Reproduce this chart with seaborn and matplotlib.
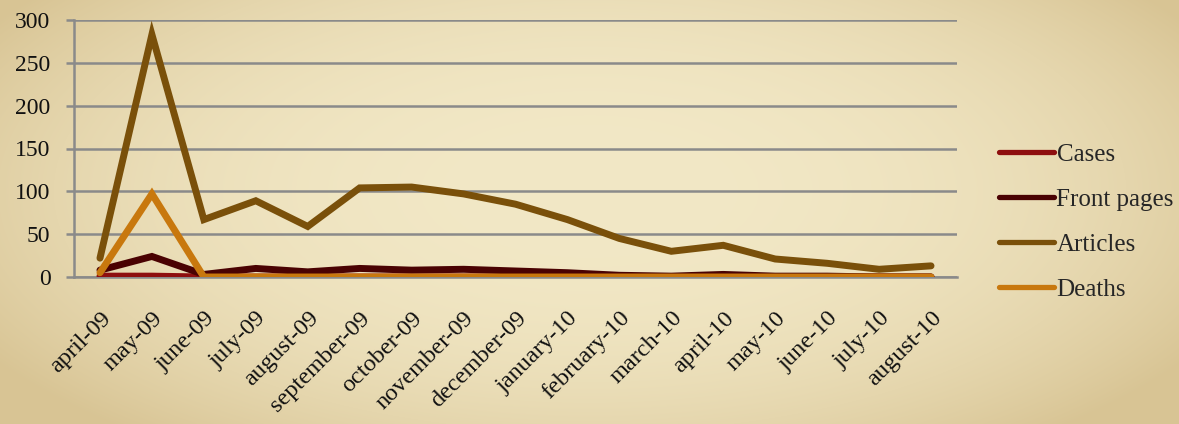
import numpy as np
import pandas as pd
import matplotlib
matplotlib.use("Agg")
import matplotlib.pyplot as plt
import seaborn as sns
from matplotlib.lines import Line2D

months = ["april-09", "may-09", "june-09", "july-09", "august-09", "september-09",
          "october-09", "november-09", "december-09", "january-10", "february-10",
          "march-10", "april-10", "may-10", "june-10", "july-10", "august-10"]
cases = [1, 1, 0, 0, 0, 0, 0, 0, 0, 0, 0, 0, 0, 0, 0, 0, 0]
front_pages = [8, 24, 3, 10, 6, 10, 8, 9, 7, 5, 2, 1, 3, 1, 1, 0, 0]
articles = [22, 283, 67, 89, 59, 104, 105, 97, 85, 67, 45, 30, 37, 21, 16, 9, 13]
deaths = [5, 97, 0, 0, 0, 0, 0, 0, 0, 0, 0, 0, 0, 0, 0, 0, 0]
series_names = ["Cases", "Front pages", "Articles", "Deaths"]
colors = ["#8E0F0F", "#4A0202", "#7A500A", "#C8780E"]

rows = []
for name, vals in zip(series_names, [cases, front_pages, articles, deaths]):
    for i, v in enumerate(vals):
        rows.append({"idx": i, "month": months[i], "value": v, "series": name})
df = pd.DataFrame(rows)

sns.set_theme(style="white")
plt.rcParams["font.family"] = ["Liberation Serif", "DejaVu Serif"]

bg = "#EFE3BD"
fig = plt.figure(figsize=(11.79, 4.24), dpi=100, facecolor=bg)

# parchment vignette background in its own axes behind everything
H, W = 424, 1179
yy, xx = np.mgrid[0:H, 0:W]
r = np.sqrt(((xx - W * 0.5) / (W * 0.6)) ** 2 + ((yy - H * 0.45) / (H * 0.75)) ** 2)
t = np.clip(r, 0, 1) ** 2.5
c0 = np.array([0xF2, 0xE8, 0xC6]) / 255.0
c1 = np.array([0xD8, 0xC4, 0x94]) / 255.0
img = c0[None, None, :] * (1 - t[..., None]) + c1[None, None, :] * t[..., None]
bgax = fig.add_axes([0, 0, 1, 1], zorder=-10)
bgax.imshow(img, aspect="auto", interpolation="bilinear")
bgax.set_axis_off()

ax = fig.add_axes([74 / 1179, 1 - 277 / 424, (957 - 74) / 1179, (277 - 20) / 424], zorder=1)
ax.patch.set_alpha(0)

sns.lineplot(data=df, x="idx", y="value", hue="series", hue_order=series_names,
             palette=colors, linewidth=5.0, ax=ax, legend=False, sort=False,
             solid_capstyle="round", solid_joinstyle="miter", zorder=3)

ax.set_xlim(-0.5, len(months) - 0.5)
ax.set_ylim(0, 300)
ax.set_yticks(np.arange(0, 301, 50))
ax.set_xticks(np.arange(len(months)))
ax.set_xticklabels(months, rotation=45, ha="right", va="top", rotation_mode="anchor",
                   fontsize=17.5, color="#111111")
ax.set_xticks(np.arange(-0.5, len(months), 1.0), minor=True)
ax.tick_params(axis="x", which="major", length=0, pad=22)
ax.tick_params(axis="x", which="minor", length=6, width=1.8, color="#8A8A8A", direction="out")
ax.tick_params(axis="y", which="major", length=6, width=1.8, color="#8A8A8A",
               labelsize=17, labelcolor="#111111", pad=11, left=True)
ax.yaxis.grid(True, color="#8A8A8A", linewidth=1.8)
ax.set_axisbelow(True)
for s in ["top", "right"]:
    ax.spines[s].set_visible(False)
for s in ["left", "bottom"]:
    ax.spines[s].set_color("#8A8A8A")
    ax.spines[s].set_linewidth(1.8)
    ax.spines[s].set_zorder(2)
ax.set_xlabel("")
ax.set_ylabel("")

handles = [Line2D([0], [0], color=c, linewidth=3.8, solid_capstyle="round") for c in colors]
fig.legend(handles, series_names, loc="center left", bbox_to_anchor=(999 / 1179, 1 - 222 / 424),
           frameon=False, fontsize=18, handlelength=2.2, handletextpad=0.1,
           labelspacing=0.9, borderaxespad=0, borderpad=0)

fig.savefig("out.png", dpi=100, facecolor=bg)
